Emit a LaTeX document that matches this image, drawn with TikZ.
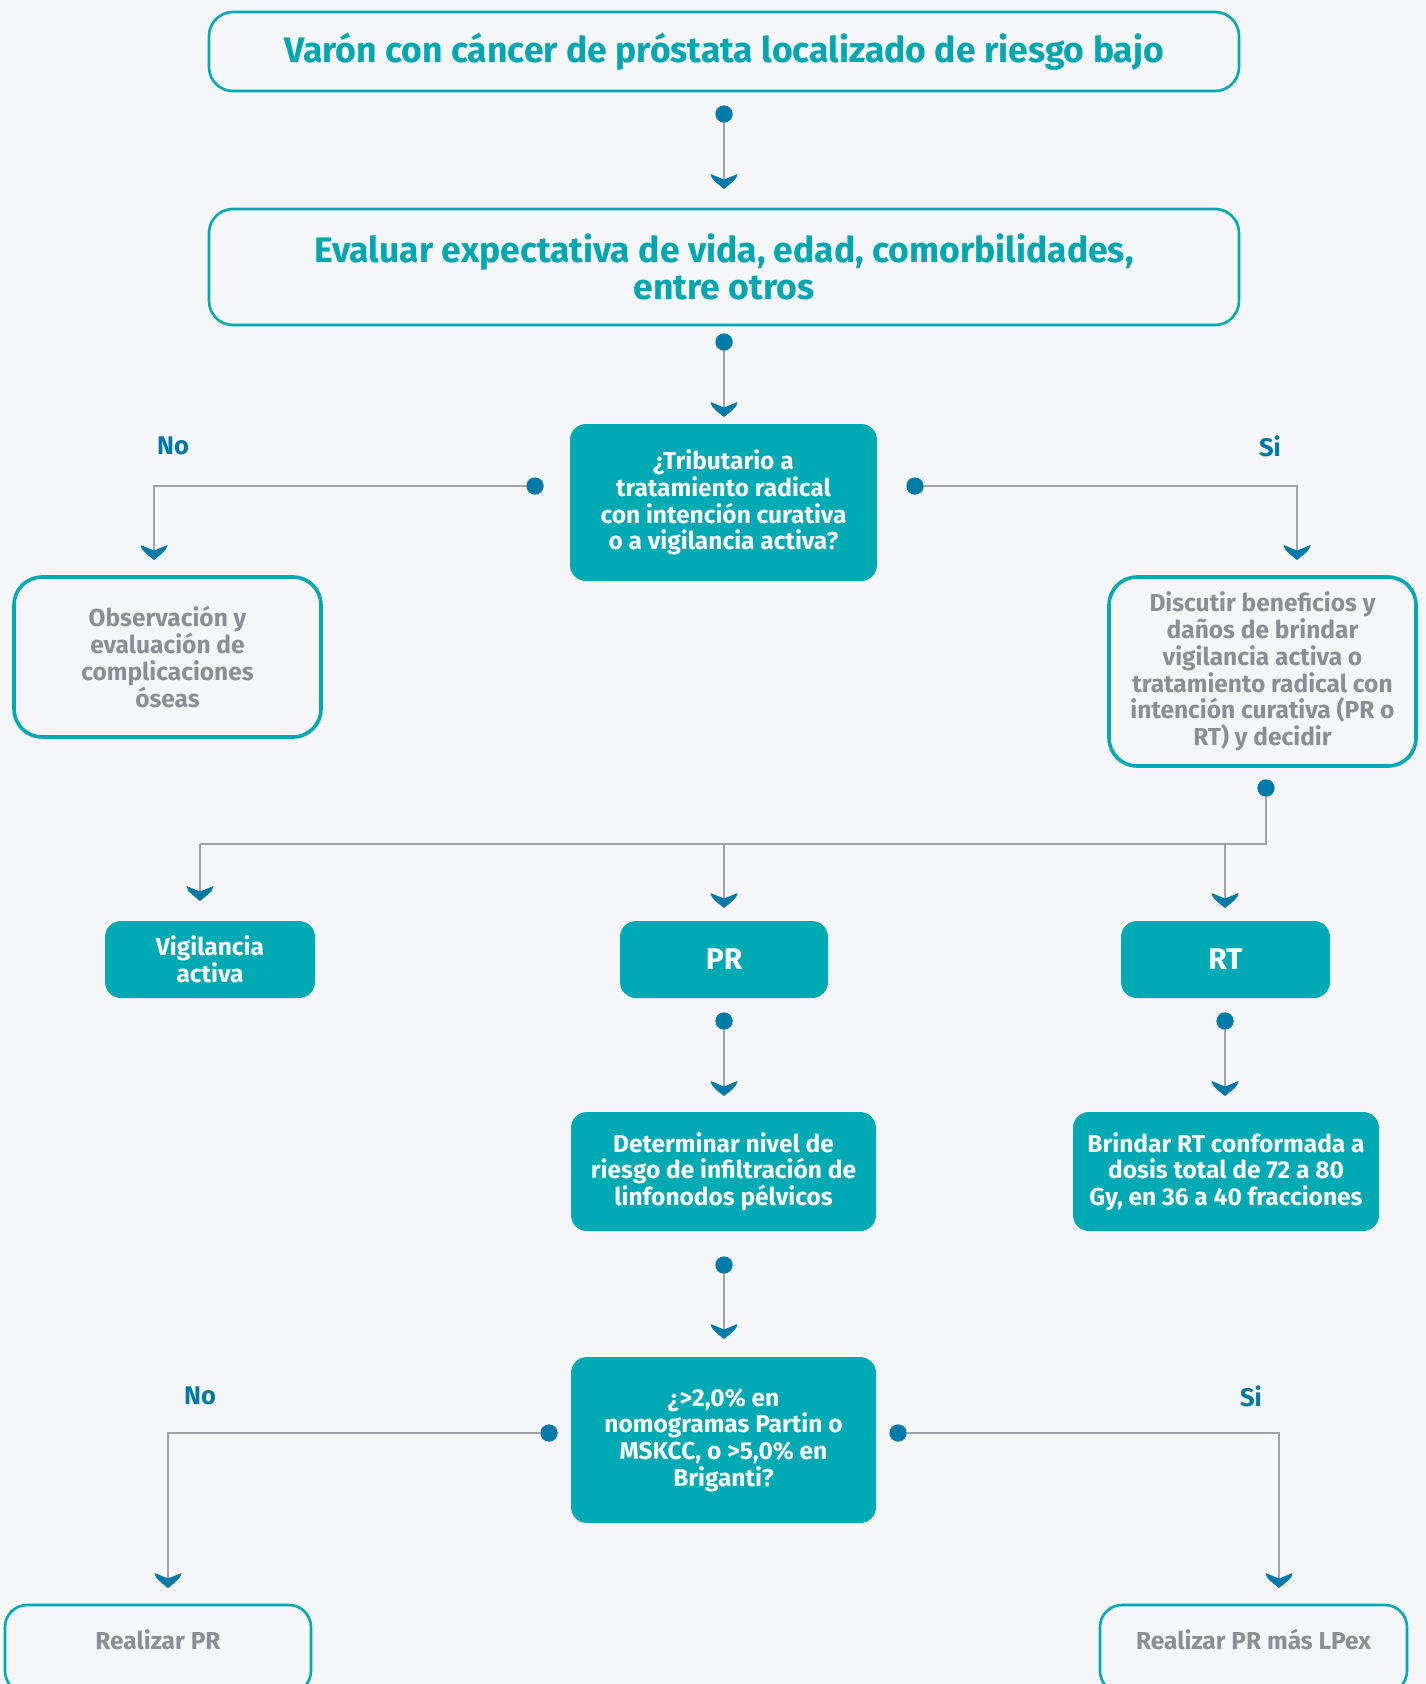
\documentclass[tikz,border=0pt]{standalone}
\usepackage{fontspec}
\setmainfont{Fira Sans}
\usetikzlibrary{arrows.meta}
\definecolor{tealbox}{RGB}{0,170,180}
\definecolor{tealtxt}{RGB}{0,166,176}
\definecolor{dotblue}{RGB}{0,122,168}
\definecolor{linegray}{RGB}{160,162,168}
\definecolor{graytxt}{RGB}{140,142,150}
\definecolor{lblblue}{RGB}{0,120,165}
\definecolor{bgc}{RGB}{245,246,248}
\tikzset{
  titlebox/.style={draw=tealbox, line width=2.6pt, rounded corners=24pt, align=center,
    text=tealtxt, font=\fontsize{35.5}{37.6}\selectfont\bfseries, inner sep=0pt},
  obox/.style={draw=tealbox, line width=3.6pt, rounded corners=28pt, align=center,
    text=graytxt, font=\fontsize{24.5}{26.7}\selectfont\bfseries, inner sep=0pt},
  fbox/.style={fill=tealbox, rounded corners=16pt, align=center,
    text=white, font=\fontsize{24.5}{26.7}\selectfont\bfseries, inner sep=0pt},
  dotnode/.style={circle, fill=dotblue, minimum size=17pt, inner sep=0pt},
  lineseg/.style={draw=linegray, line width=2.8pt},
  conn/.style={lineseg, shorten >=9pt},
  ahead/.pic={\fill[dotblue] (0,0) .. controls (-6,-5) and (-13.5,-10) .. (-13.5,-15) -- (0,-9.5) -- (13.5,-15) .. controls (13.5,-10) and (6,-5) .. (0,0) -- cycle;},
  yesno/.style={text=lblblue, font=\fontsize{25.5}{28}\selectfont\bfseries, inner sep=0pt},
}
\begin{document}
\begin{tikzpicture}[x=1pt,y=-1pt]
\useasboundingbox (0,0) rectangle (1426,1684);
\fill[bgc] (0,0) rectangle (1426,1684);
\begin{scope}
\clip (0,0) rectangle (1426,1684);
% boxes
\node[titlebox, minimum width=1030pt, minimum height=79pt] (t1) at (724,51.5)
  {Varón con cáncer de próstata localizado de riesgo bajo};
\node[titlebox, minimum width=1030pt, minimum height=116pt] (t2) at (724,267)
  {Evaluar expectativa de vida, edad, comorbilidades,\\ entre otros};
\node[fbox, minimum width=307pt, minimum height=157pt] (q1) at (723.5,502.5)
  {¿Tributario a\\ tratamiento radical\\ con intención curativa\\ o a vigilancia activa?};
\node[obox, minimum width=307pt, minimum height=160pt] (obs) at (167.5,657)
  {Observación y\\ evaluación de\\ complicaciones\\ óseas};
\node[obox, minimum width=307pt, minimum height=189pt] (disc) at (1262.5,671.5)
  {Discutir beneficios y\\ daños de brindar\\ vigilancia activa o\\ tratamiento radical con\\ intención curativa (PR o\\ RT) y decidir};
\node[fbox, minimum width=210pt, minimum height=77pt] (vig) at (210,959.5)
  {Vigilancia\\ activa};
\node[fbox, minimum width=208pt, minimum height=77pt, font=\fontsize{30}{32}\selectfont\bfseries] (pr) at (724,959.5) {PR};
\node[fbox, minimum width=209pt, minimum height=77pt, font=\fontsize{30}{32}\selectfont\bfseries] (rt) at (1225.5,959.5) {RT};
\node[fbox, minimum width=305pt, minimum height=119pt] (det) at (723.5,1171.5)
  {Determinar nivel de\\ riesgo de infiltración de\\ linfonodos pélvicos};
\node[fbox, minimum width=306pt, minimum height=119pt] (brin) at (1226,1171.5)
  {Brindar RT conformada a\\ dosis total de 72 a 80\\ Gy, en 36 a 40 fracciones};
\node[fbox, minimum width=305pt, minimum height=166pt] (q2) at (723.5,1440)
  {¿>2,0\% en\\ nomogramas Partin o\\ MSKCC, o >5,0\% en\\ Briganti?};
\node[obox, line width=2.6pt, rounded corners=22pt, minimum width=306pt, text height=44pt, text depth=44pt, anchor=base] (rpr) at (158,1649) {Realizar PR};
\node[obox, line width=2.6pt, rounded corners=22pt, minimum width=307pt, text height=44pt, text depth=44pt, anchor=base] (rlp) at (1253.5,1649) {Realizar PR más LPex};
\end{scope}
% labels
\node[yesno] (no1) at (173,446) {No};
\node[yesno] (si1) at (1270,446) {Si};
\node[yesno] (no2) at (200,1396) {No};
\node[yesno] (si2) at (1251,1396) {Si};
% dots
\node[dotnode] (d1) at (724,114) {};
\node[dotnode] (d2) at (724,342) {};
\node[dotnode] (dq1l) at (535,486) {};
\node[dotnode] (dq1r) at (915,486) {};
\node[dotnode] (dd) at (1266,788) {};
\node[dotnode] (dpr) at (724,1021) {};
\node[dotnode] (drt) at (1225,1021) {};
\node[dotnode] (ddet) at (724,1265) {};
\node[dotnode] (dq2l) at (549,1433) {};
\node[dotnode] (dq2r) at (898,1433) {};
% coordinates
\coordinate (a1) at (724,189);
\coordinate (a2) at (724,417);
\coordinate (aobs) at (154,560);
\coordinate (adisc) at (1297,560);
\coordinate (jd) at (1266,844);
\coordinate (jv) at (200,844);
\coordinate (jp) at (724,844);
\coordinate (jr) at (1225,844);
\coordinate (avig) at (200,901);
\coordinate (apr) at (724,908);
\coordinate (art) at (1225,908);
\coordinate (adet) at (724,1096);
\coordinate (abrin) at (1225,1096);
\coordinate (aq2) at (724,1339);
\coordinate (arpr) at (168,1588);
\coordinate (arlp) at (1279,1588);
% connectors
\draw[conn] (d1.center) -- (a1);
\draw[conn] (d2.center) -- (a2);
\draw[conn] (dq1l.center) -| (aobs);
\draw[conn] (dq1r.center) -| (adisc);
\draw[lineseg] (dd.center) -- (jd) -- (jv);
\draw[conn] (jv) -- (avig);
\draw[conn] (jp) -- (apr);
\draw[conn] (jr) -- (art);
\draw[conn] (dpr.center) -- (adet);
\draw[conn] (drt.center) -- (abrin);
\draw[conn] (ddet.center) -- (aq2);
\draw[conn] (dq2l.center) -| (arpr);
\draw[conn] (dq2r.center) -| (arlp);
% arrowheads
\foreach \c in {a1,a2,aobs,adisc,avig,apr,art,adet,abrin,aq2,arpr,arlp}{\pic at (\c) {ahead};}
% dots on top of the lines
\foreach \n in {d1,d2,dq1l,dq1r,dd,dpr,drt,ddet,dq2l,dq2r}{\fill[dotblue] (\n) circle (8.5pt);}
\end{tikzpicture}
\end{document}
